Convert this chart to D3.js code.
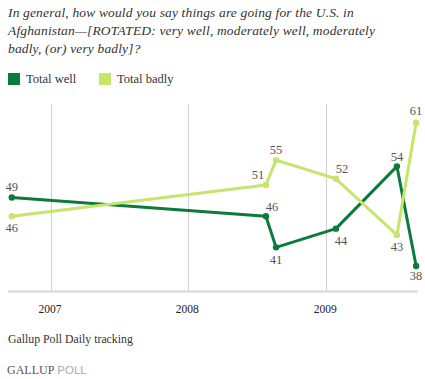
<!DOCTYPE html>
<html>
<head>
<meta charset="utf-8">
<script src="https://cdn.jsdelivr.net/npm/d3@7"></script>
<style>
  html, body { margin: 0; padding: 0; background: #fff; }
  svg { display: block; }
</style>
</head>
<body>
<svg id="chart" width="425" height="379"></svg>
<script>
// ---- Data ----
const titleLines = [
  "In general, how would you say things are going for the U.S. in",
  "Afghanistan\u2014[ROTATED: very well, moderately well, moderately",
  "badly, (or) very badly]?"
];
const seriesNames = ["Total well", "Total badly"];
const surveyDates = ["2006-09-19", "2008-07-25", "2008-08-21", "2009-01-27", "2009-07-08", "2009-08-28"];
const wellValues = [49, 46, 41, 44, 54, 38];
const badlyValues = [46, 51, 55, 52, 43, 61];
const yearTicks = ["2007-01-01", "2008-01-01", "2009-01-01"];
const yearLabels = ["2007", "2008", "2009"];
const sourceText = "Gallup Poll Daily tracking";

// ---- Setup ----
const svg = d3.select("#chart");
const parse = d3.timeParse("%Y-%m-%d");
const colors = { well: "#0a7b3a", badly: "#c5e56c" };
const serif = "'Liberation Serif', 'DejaVu Serif', serif";

const plot = { left: 8, right: 418, top: 104, bottom: 291 };

const x = d3.scaleTime()
  .domain([parse("2006-09-09"), parse("2009-09-02")])
  .range([plot.left, plot.right]);
const y = d3.scaleLinear()
  .domain([34, 64])
  .range([plot.bottom, plot.top]);

// Title
svg.append("g").selectAll("text").data(titleLines).join("text")
  .attr("x", 8)
  .attr("y", (d, i) => 17.3 + i * 17.6)
  .attr("font-family", serif)
  .attr("font-style", "italic")
  .attr("font-size", 13.5)
  .attr("letter-spacing", 0.15)
  .attr("fill", "#333")
  .text(d => d);

// Legend
const legend = svg.append("g");
const legendX = [8, 99];
const legendColors = [colors.well, colors.badly];
seriesNames.forEach((name, i) => {
  legend.append("rect")
    .attr("x", legendX[i]).attr("y", 73)
    .attr("width", 12).attr("height", 12)
    .attr("fill", legendColors[i]);
  legend.append("text")
    .attr("x", legendX[i] + 18).attr("y", 82.5)
    .attr("font-family", serif)
    .attr("font-size", 12.5)
    .attr("fill", "#333")
    .text(name);
});

// Gridlines
const ticks = yearTicks.map(parse);
svg.append("g").selectAll("line").data(ticks).join("line")
  .attr("x1", d => Math.round(x(d)) + 0.5)
  .attr("x2", d => Math.round(x(d)) + 0.5)
  .attr("y1", plot.top)
  .attr("y2", plot.bottom)
  .attr("stroke", "#cfcfcf")
  .attr("stroke-width", 1);

// Bottom axis line
svg.append("line")
  .attr("x1", plot.left).attr("x2", plot.right)
  .attr("y1", plot.bottom + 0.5).attr("y2", plot.bottom + 0.5)
  .attr("stroke", "#dcdcdc")
  .attr("stroke-width", 2.5);

// Year labels via axis
const axis = d3.axisBottom(x)
  .tickValues(ticks)
  .tickFormat((d, i) => yearLabels[i])
  .tickSize(0)
  .tickPadding(0);
const axisG = svg.append("g")
  .attr("transform", `translate(-1.5, ${plot.bottom})`)
  .call(axis);
axisG.select(".domain").remove();
axisG.selectAll("text")
  .attr("dy", null)
  .attr("y", 22)
  .attr("font-family", serif)
  .attr("font-size", 11.5)
  .attr("fill", "#222");

// Series
const dates = surveyDates.map(parse);
const wellData = dates.map((d, i) => ({ date: d, value: wellValues[i] }));
const badlyData = dates.map((d, i) => ({ date: d, value: badlyValues[i] }));

const line = d3.line().x(d => x(d.date)).y(d => y(d.value));

// label offsets (dx, dy from point to text center)
const wellOffsets = [[0, -11], [6, -10], [0, 12], [5, 12], [0, -10], [0, 10]];
const badlyOffsets = [[0, 11], [-8, -10], [0, -10], [6, -10], [0, 12], [0, -12]];

function drawSeries(data, color, offsets) {
  const g = svg.append("g");
  g.append("path")
    .datum(data)
    .attr("d", line)
    .attr("fill", "none")
    .attr("stroke", color)
    .attr("stroke-width", 3)
    .attr("stroke-linejoin", "round");
  g.selectAll("circle").data(data).join("circle")
    .attr("cx", d => x(d.date))
    .attr("cy", d => y(d.value))
    .attr("r", 3.2)
    .attr("fill", color);
  g.selectAll("text").data(data).join("text")
    .attr("x", (d, i) => x(d.date) + offsets[i][0])
    .attr("y", (d, i) => y(d.value) + offsets[i][1])
    .attr("dy", "0.35em")
    .attr("text-anchor", "middle")
    .attr("font-family", serif)
    .attr("font-size", 12.5)
    .attr("fill", "#555")
    .text(d => d.value);
}
drawSeries(wellData, colors.well, wellOffsets);
drawSeries(badlyData, colors.badly, badlyOffsets);

// Source
svg.append("text")
  .attr("x", 8).attr("y", 342.5)
  .attr("font-family", serif)
  .attr("font-size", 11.8)
  .attr("fill", "#333")
  .text(sourceText);

// Gallup logo text
const logo = svg.append("text")
  .attr("x", 7).attr("y", 373.5);
logo.append("tspan")
  .attr("font-family", serif)
  .attr("font-size", 12)
  .attr("fill", "#555")
  .text("GALLUP");
logo.append("tspan")
  .attr("font-family", "'Liberation Sans', Arial, sans-serif")
  .attr("font-size", 11.5)
  .attr("fill", "#aaa")
  .attr("dx", 3)
  .text("POLL");
</script>
</body>
</html>
